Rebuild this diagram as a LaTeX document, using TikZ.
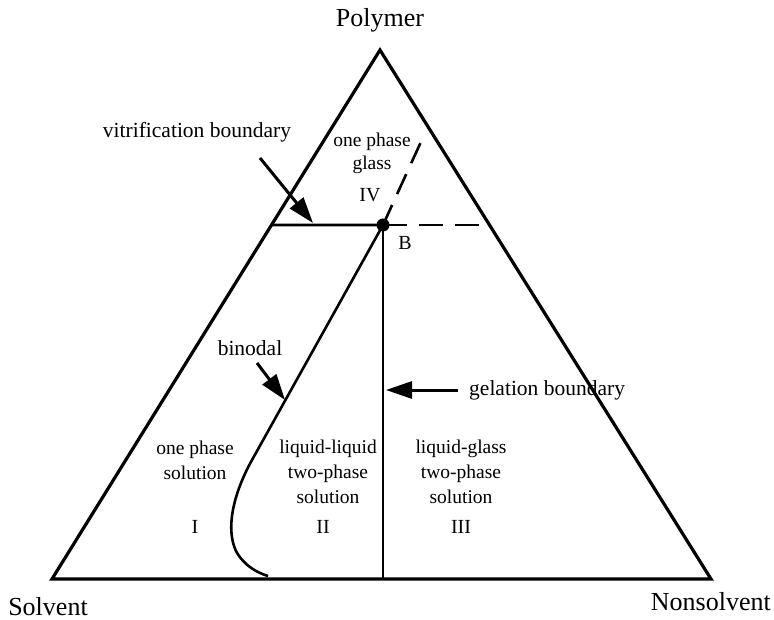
\documentclass[tikz,border=0pt]{standalone}
\usepackage{fontspec}
\setmainfont{Liberation Serif}
\usetikzlibrary{arrows.meta,calc}
\begin{document}
\begin{tikzpicture}[x=1pt,y=-1pt,
  edge/.style={line width=3.2pt, line join=miter},
  bound/.style={line width=2.6pt},
  pointer/.style={line width=3pt,-{Triangle[length=26pt,width=17pt]}},
  vlabel/.style={inner sep=0pt, font=\fontsize{26}{30}\selectfont},
  alabel/.style={inner sep=0pt, font=\fontsize{21.5}{25}\selectfont},
  rlabel/.style={inner sep=0pt, align=center, font=\fontsize{19.5}{25}\selectfont},
  glabel/.style={inner sep=0pt, align=center, font=\fontsize{19.5}{23}\selectfont},
  numeral/.style={inner sep=0pt, font=\fontsize{20}{24}\selectfont}]
\useasboundingbox (0,0) rectangle (774,620);
% triangle
\coordinate (P) at (380,50);
\coordinate (S) at (52,579);
\coordinate (N) at (711,579);
\draw[edge] (P) -- (S) -- (N) -- cycle;
% boundaries
\coordinate (B) at (383,225);
\coordinate (V) at ($(P)!0.3308!(S)$);
\coordinate (Hd) at (480,225);
\coordinate (Dt) at (425,133);
\coordinate (G) at (383,579);
\coordinate (bn1) at (252,460);
\coordinate (bn2) at (236,551);
\coordinate (bn3) at (268,576);
\draw[bound] (V) -- (B);
\draw[bound, dash pattern=on 24pt off 12pt] (B) -- (Hd);
\draw[bound, dash pattern=on 22pt off 12pt] (B) -- (Dt);
\draw[bound] (B) -- (G);
\draw[bound] (B) -- (bn1) .. controls (232,496) and (226,530) .. (bn2)
  .. controls (244,566) and (258,573) .. (bn3);
\fill (B) circle (6.5pt);
% arrows
\coordinate (va0) at (260,158);
\coordinate (va1) at (313,223);
\coordinate (ba0) at (257,363);
\coordinate (ba1) at (285,400);
\coordinate (ga0) at (458,390);
\coordinate (ga1) at (386,390);
\draw[pointer] (va0) -- (va1);
\draw[pointer] (ba0) -- (ba1);
\draw[pointer] (ga0) -- (ga1);
% labels
\node[vlabel] (lP) at (380,20) {Polymer};
\node[vlabel] (lS) at (48,607) {Solvent};
\node[vlabel, anchor=east] (lN) at (771,602) {Nonsolvent};
\node[alabel] (lv) at (197,132) {vitrification boundary};
\node[alabel, anchor=west] (lg) at (469,390) {gelation boundary};
\node[alabel] (lb) at (250,348) {binodal};
\node[glabel] (lgl) at (372,153) {one phase\\glass};
\node[numeral] (n4) at (370,195) {IV};
\node[numeral] (nB) at (405,243) {B};
\node[rlabel] (r1) at (195,460) {one phase\\solution};
\node[rlabel] (r2) at (328,472) {liquid-liquid\\two-phase\\solution};
\node[rlabel] (r3) at (461,472) {liquid-glass\\two-phase\\solution};
\node[numeral] (n1) at (195,527) {I};
\node[numeral] (n2) at (323,527) {II};
\node[numeral] (n3) at (461,527) {III};
\end{tikzpicture}
\end{document}
